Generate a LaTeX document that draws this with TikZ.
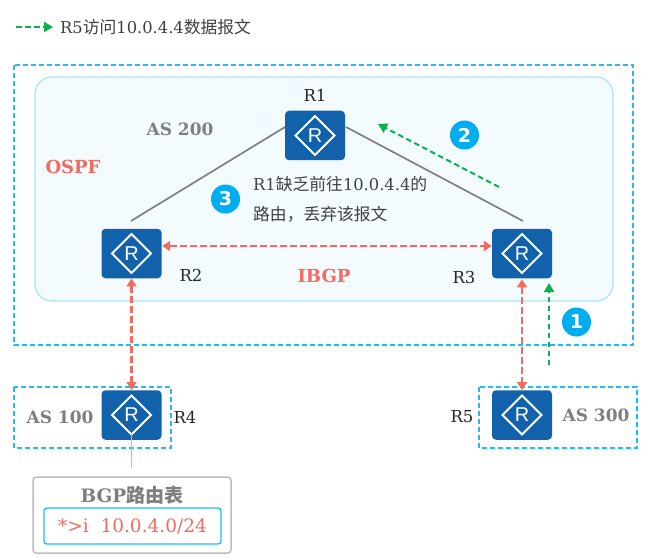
\documentclass[tikz,border=0pt]{standalone}
\usepackage{fontspec}
\setmainfont{DejaVu Serif}
\newfontfamily\cjk{Noto Sans CJK SC}[Scale=1.03]
\newfontfamily\rlabel{Liberation Sans}
\newfontfamily\badgefont{DejaVu Sans}
\usetikzlibrary{arrows.meta}
\definecolor{routerblue}{HTML}{1262AB}
\definecolor{zone}{HTML}{1FBDF5}
\definecolor{areafill}{HTML}{F3FBFF}
\definecolor{areaedge}{HTML}{A8E4FB}
\definecolor{bgpred}{HTML}{F26B5E}
\definecolor{pathgreen}{HTML}{0DB14B}
\definecolor{badgeblue}{HTML}{00AEEF}
\definecolor{linkgray}{HTML}{808080}
\definecolor{labelgray}{HTML}{7F7F7F}
\definecolor{tablegray}{HTML}{BDBDBD}
\definecolor{bodytext}{HTML}{404040}
\tikzset{
  x=1pt,y=-1pt,
  routerbox/.style={draw=none,fill=routerblue,rounded corners=4pt,minimum width=60pt,minimum height=49.5pt,inner sep=0pt},
  zonebox/.style={draw=zone,line width=1.3pt,dash pattern=on 5pt off 3pt},
  link/.style={draw=linkgray,line width=1.7pt},
  bgplink/.style={draw=bgpred,line width=2.8pt,dash pattern=on 7pt off 3pt,{Triangle[length=8pt,width=10pt]}-{Triangle[length=8pt,width=10pt]}},
  flow/.style={draw=pathgreen,line width=2pt,dash pattern=on 5.5pt off 3.5pt,-{Triangle[length=9pt,width=10pt]}},
  badge/.style={circle,fill=badgeblue,text=white,minimum size=29pt,inner sep=0pt,font=\badgefont\bfseries\fontsize{19}{19}\selectfont},
  rname/.style={inner sep=0pt,text=black!85,font=\fontsize{16.5}{16.5}\selectfont},
  asname/.style={inner sep=0pt,text=labelgray,font=\bfseries\fontsize{17}{17}\selectfont},
  proto/.style={inner sep=0pt,text=bgpred,font=\bfseries\fontsize{18}{18}\selectfont},
  note/.style={inner sep=0pt,anchor=west,text=bodytext,font=\fontsize{16.3}{16.3}\selectfont},
}
% A router icon: blue tile, white diamond, white letter R
\newcommand{\routericon}[3]{%
  \node[routerbox] (#1) at (#2,#3) {};
  \draw[white,line width=1.8pt] (#2-19.5,#3) -- (#2,#3-19.5) -- (#2+19.5,#3) -- (#2,#3+19.5) -- cycle;
  \node[inner sep=0pt,text=white,font=\rlabel\fontsize{20}{20}\selectfont] at (#2,#3) {R};
}
\begin{document}
\begin{tikzpicture}
\useasboundingbox (0,0) rectangle (656,559);
\fill[white] (0,0) rectangle (656,559);

% Legend
\coordinate (legA) at (16,27);
\coordinate (legB) at (53,27);
\draw[flow] (legA) -- (legB);
\node[note] (legend) at (60,27) {R5{\cjk 访问}10.0.4.4{\cjk 数据报文}};

% Autonomous system outlines and the OSPF area
\draw[zonebox] (14,65) rectangle (633,345);
\draw[draw=areaedge,fill=areafill,line width=1.2pt,rounded corners=17pt] (35,77) rectangle (613,301);
\draw[zonebox] (14,387) rectangle (171,448);
\draw[zonebox] (479,387) rectangle (637,448);

% Routers
\routericon{r1}{315}{135.5}
\routericon{r2}{131.5}{253.5}
\routericon{r3}{522}{253.5}
\routericon{r4}{131.5}{415}
\routericon{r5}{522}{415}

% Physical links inside AS 200
\coordinate (r1w) at (285,127);
\coordinate (r1e) at (346,127);
\coordinate (r2t) at (131,221);
\coordinate (r3t) at (523,221);
\draw[link] (r1w) -- (r2t);
\draw[link] (r1e) -- (r3t);

% IBGP and EBGP sessions
\draw[bgplink] (r2.east |- 0,246) ++(0.5,0) coordinate (ibA) -- (r3.west |- 0,246);
\draw[bgplink] (r2.south) -- (r4.north);
\draw[bgplink] (r3.south) ++(0,1) -- (r5.north);

% Data packet path
\coordinate (f1) at (549,365);
\coordinate (f2) at (549,283);
\coordinate (f3) at (499,187);
\coordinate (f4) at (378,124);
\draw[flow] (f1) -- (f2);
\draw[flow] (f3) -- (f4);

% Step badges
\node[badge] (b1) at (576.5,322) {1};
\node[badge] (b2) at (464.5,135) {2};
\node[badge] (b3) at (225.5,199) {3};

% Labels
\node[rname] (n1) at (315,95) {R1};
\node[rname] (n2) at (191,275) {R2};
\node[rname] (n3) at (464,277) {R3};
\node[rname] (n4) at (185,417) {R4};
\node[rname] (n5) at (462,417) {R5};
\node[asname] (as200) at (180,129) {AS 200};
\node[asname] (as100) at (60,417) {AS 100};
\node[asname] (as300) at (596,415) {AS 300};
\node[proto] (ospf) at (73,167) {OSPF};
\node[proto] (ibgp) at (324,276) {IBGP};
\node[note] (drop1) at (253,184) {R1{\cjk 缺乏前往}10.0.4.4{\cjk 的}};
\node[note] (drop2) at (253,214) {{\cjk 路由，丢弃该报文}};

% BGP routing table callout
\node[draw=tablegray,fill=white,line width=1.5pt,rounded corners=3pt,minimum width=198pt,minimum height=76pt,inner sep=0pt] (tbl) at (132,515) {};
\node[inner sep=0pt,text=labelgray,font=\bfseries\fontsize{18.5}{18.5}\selectfont] (tbltitle) at (132,495.5) {BGP{\cjk 路由表}};
\node[draw=zone,fill=white,line width=1.3pt,rounded corners=3pt,minimum width=177pt,minimum height=36pt,inner sep=0pt,text=bgpred,font=\fontsize{18.5}{18.5}\selectfont] (route) at (132.5,526) {*>i\ \ 10.0.4.0/24};
\coordinate (stub) at (131.5,468);
\draw[tablegray,line width=1.6pt] (131.5,433) -- (stub);
\end{tikzpicture}
\end{document}
